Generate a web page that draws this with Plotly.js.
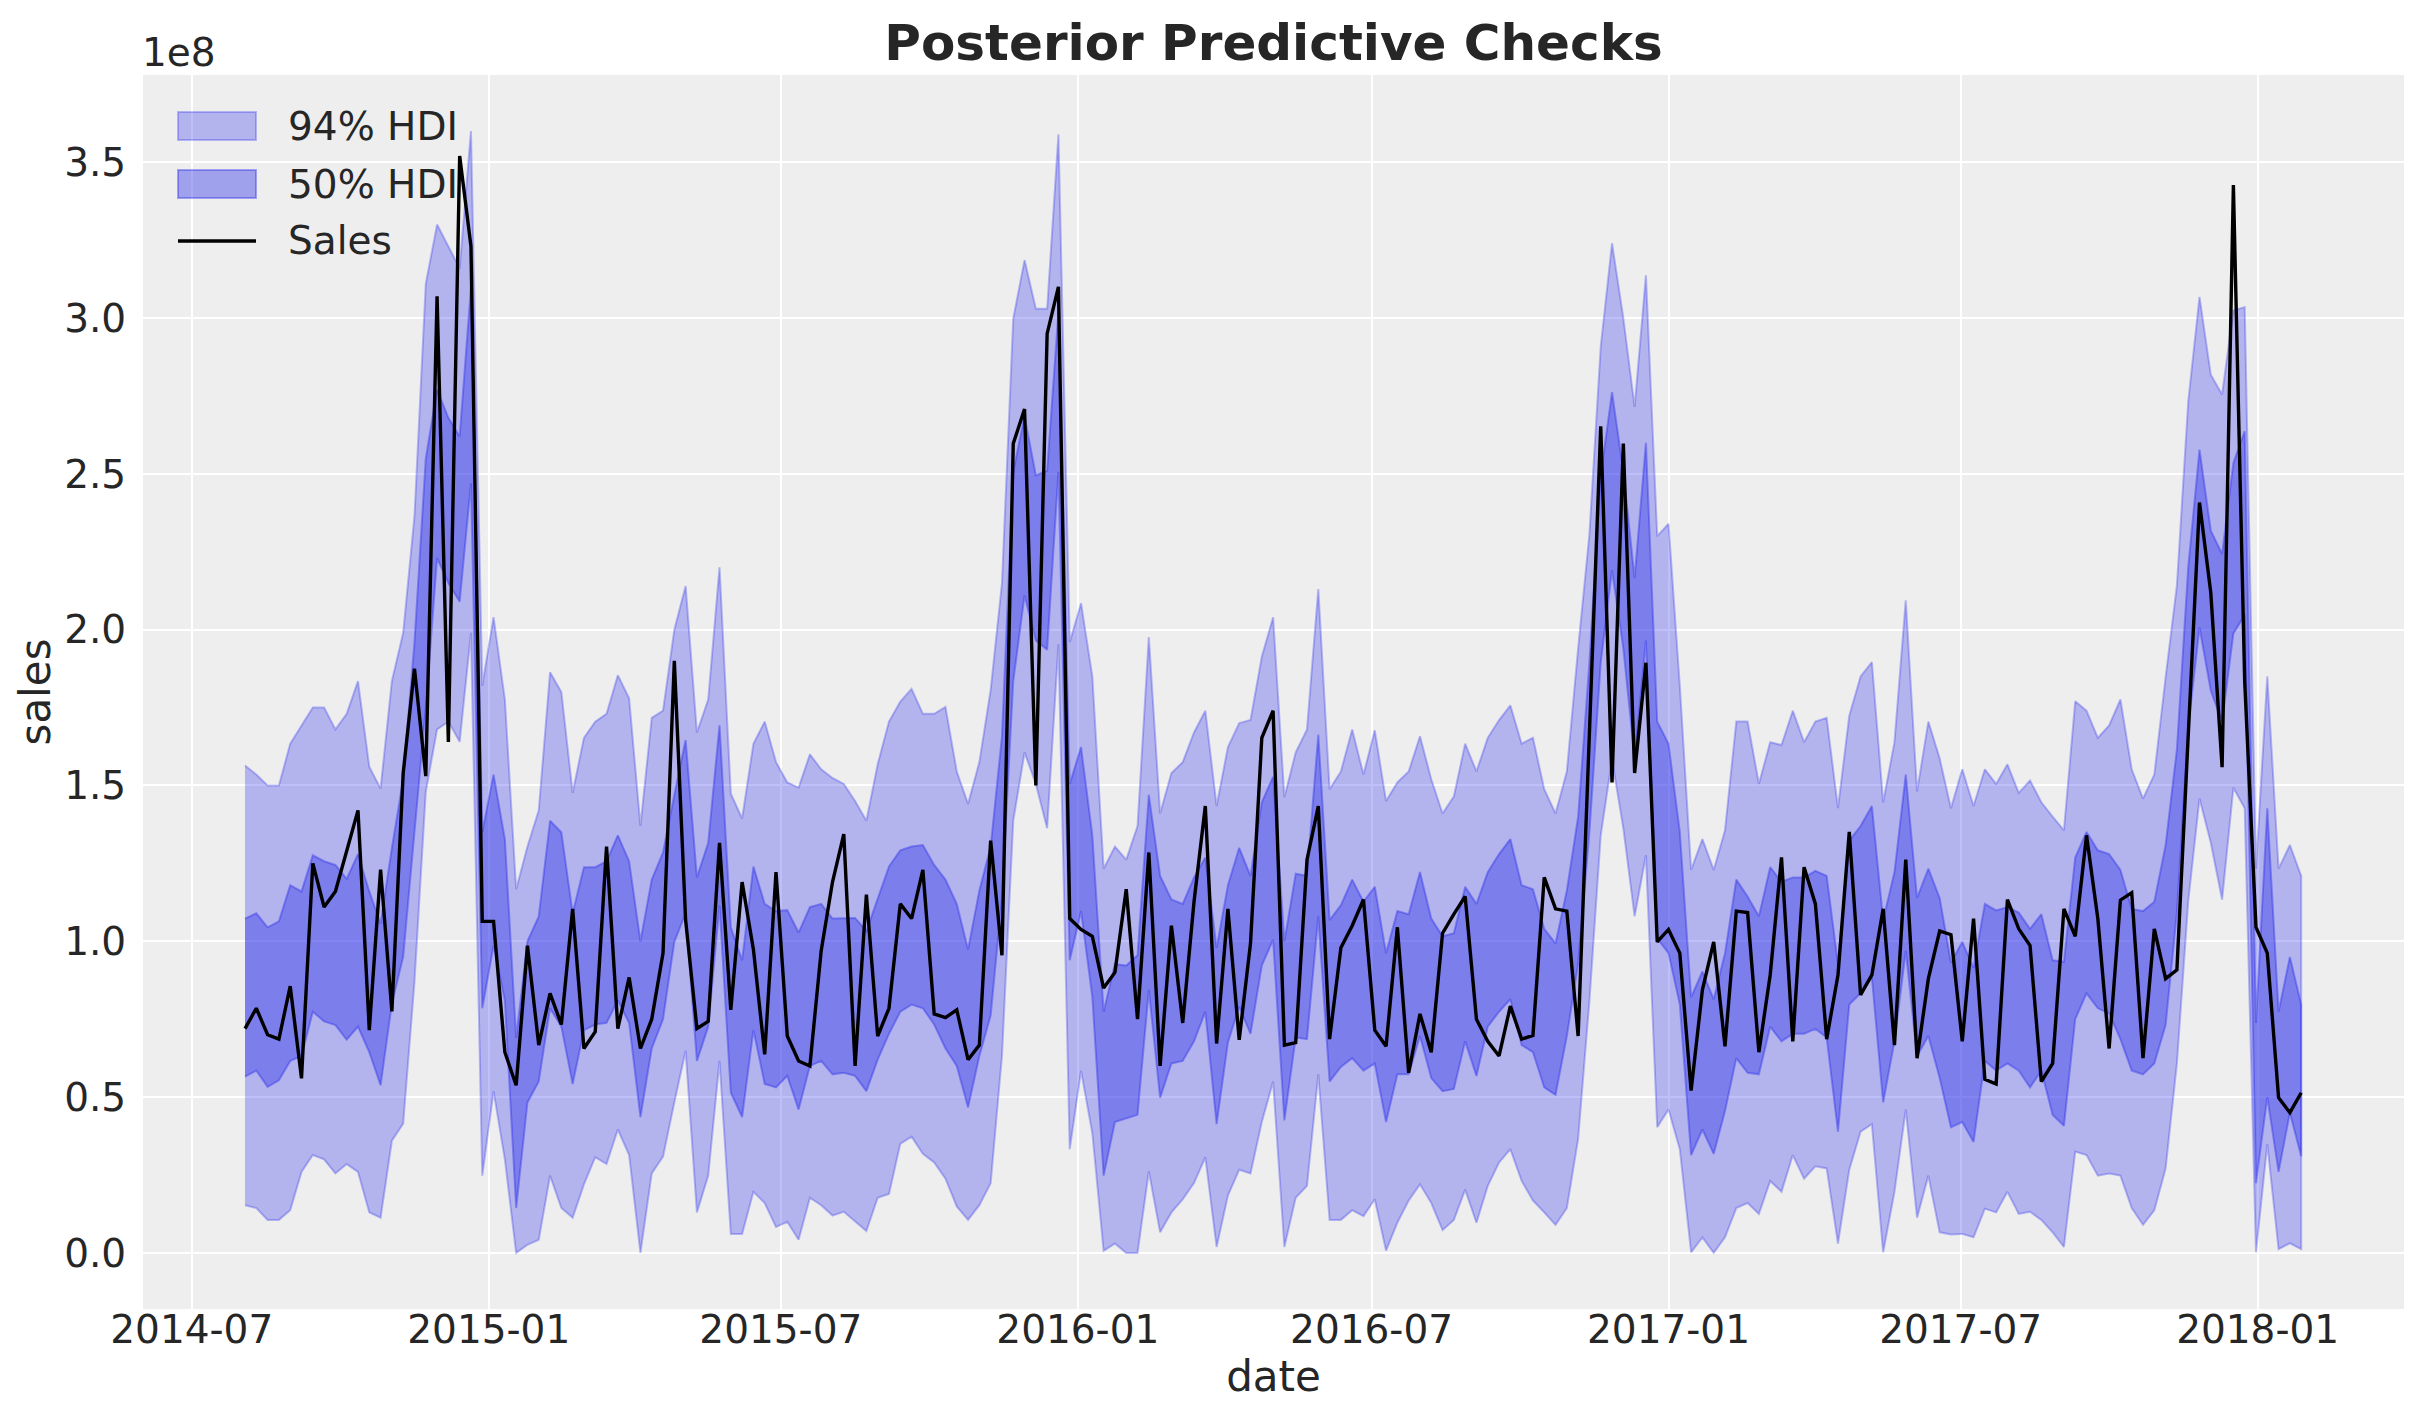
<!DOCTYPE html>
<html>
<head>
<meta charset="utf-8">
<script src="https://cdn.plot.ly/plotly-3.0.1.min.js"></script>
<style>
  html, body { margin: 0; padding: 0; background: #ffffff; }
  #chart { width: 2423px; height: 1423px; }
</style>
</head>
<body>
<div id="chart"></div>
<script>
// weekly observations, values in units of 1e8
var startDate = "2014-08-03";

var sales = [
  0.72, 0.785, 0.70, 0.686, 0.856, 0.56, 1.25, 1.11, 1.16, 1.29, 1.42, 0.715, 1.23, 0.775, 1.54, 1.875, 1.53, 3.07, 1.64, 3.52, 3.23,
  1.064, 1.064, 0.644, 0.538, 0.986, 0.667, 0.833, 0.733, 1.104, 0.656, 0.71, 1.304, 0.72, 0.884, 0.656, 0.75, 0.962, 1.90, 1.068, 0.72,
  0.743, 1.316, 0.78, 1.19, 0.974, 0.637, 1.222, 0.696, 0.616, 0.60, 0.97, 1.19, 1.344, 0.60, 1.15, 0.696, 0.785, 1.12, 1.073, 1.229,
  0.767, 0.755, 0.78, 0.62, 0.667, 1.323, 0.955, 2.597, 2.708, 1.50, 2.95, 3.10, 1.073, 1.038, 1.016, 0.85, 0.90, 1.167, 0.75, 1.285, 0.60,
  1.05, 0.738, 1.127, 1.434, 0.672, 1.104, 0.684, 0.993, 1.653, 1.74, 0.667, 0.675, 1.262, 1.434, 0.686, 0.979, 1.05, 1.134, 0.715, 0.663,
  1.045, 0.578, 0.767, 0.644, 1.026, 1.087, 1.144, 0.75, 0.679, 0.632, 0.792, 0.686, 0.698, 1.205, 1.104, 1.097, 0.696, 1.67, 2.653, 1.51, 2.597,
  1.54, 1.894, 0.998, 1.038, 0.962, 0.521, 0.844, 0.998, 0.663, 1.097, 1.092, 0.644, 0.892, 1.269, 0.679, 1.238, 1.12, 0.686, 0.892, 1.351,
  0.828, 0.892, 1.104, 0.667, 1.262, 0.625, 0.88, 1.033, 1.021, 0.679, 1.073, 0.557, 0.542, 1.134, 1.04, 0.986, 0.55, 0.608, 1.104, 1.016, 1.34,
  1.073, 0.656, 1.132, 1.156, 0.625, 1.04, 0.88, 0.908, 1.65, 2.408, 2.118, 1.559, 3.427, 1.835, 1.045, 0.962, 0.498, 0.45, 0.514
];

var hdi94High = [
  1.564, 1.535, 1.50, 1.50, 1.634, 1.69, 1.75, 1.75, 1.68, 1.73, 1.835, 1.56, 1.49, 1.835, 1.99, 2.365, 3.11, 3.30, 3.23, 3.16, 3.60,
  1.82, 2.04, 1.776, 1.167, 1.304, 1.42, 1.863, 1.80, 1.476, 1.653, 1.705, 1.73, 1.854, 1.78, 1.37, 1.717, 1.74, 2.00, 2.14, 1.67,
  1.776, 2.20, 1.474, 1.394, 1.634, 1.705, 1.575, 1.51, 1.493, 1.60, 1.552, 1.524, 1.505, 1.45, 1.387, 1.568, 1.705, 1.769, 1.81, 1.73,
  1.73, 1.752, 1.545, 1.441, 1.575, 1.807, 2.149, 2.998, 3.186, 3.03, 3.03, 3.59, 1.96, 2.085, 1.85, 1.233, 1.304, 1.262, 1.37, 1.976, 1.41,
  1.54, 1.575, 1.67, 1.74, 1.434, 1.623, 1.70, 1.71, 1.913, 2.04, 1.462, 1.606, 1.68, 2.13, 1.488, 1.545, 1.68, 1.535, 1.677, 1.45,
  1.51, 1.545, 1.658, 1.52, 1.41, 1.465, 1.634, 1.545, 1.653, 1.71, 1.757, 1.634, 1.653, 1.488, 1.41, 1.545, 1.94, 2.307, 2.908, 3.24, 3.0,
  2.715, 3.137, 2.30, 2.34, 1.82, 1.229, 1.328, 1.229, 1.356, 1.705, 1.705, 1.505, 1.639, 1.63, 1.74, 1.639, 1.705, 1.717, 1.427, 1.724,
  1.85, 1.896, 1.446, 1.639, 2.094, 1.481, 1.705, 1.587, 1.427, 1.552, 1.434, 1.552, 1.505, 1.568, 1.476, 1.516, 1.446, 1.40, 1.356, 1.77, 1.74,
  1.653, 1.693, 1.776, 1.552, 1.458, 1.535, 1.847, 2.142, 2.731, 3.068, 2.818, 2.755, 3.024, 3.035, 1.233, 1.85, 1.233, 1.309, 1.21
];

var hdi94Low = [
  0.153, 0.144, 0.106, 0.106, 0.137, 0.26, 0.314, 0.30, 0.255, 0.285, 0.26, 0.13, 0.113, 0.36, 0.415, 0.87, 1.48, 1.68, 1.705, 1.64, 1.99,
  0.248, 0.519, 0.30, 0.0, 0.026, 0.042, 0.248, 0.144, 0.113, 0.22, 0.307, 0.285, 0.396, 0.314, 0.0, 0.255, 0.309, 0.483, 0.649, 0.13,
  0.248, 0.616, 0.061, 0.061, 0.196, 0.16, 0.083, 0.10, 0.042, 0.177, 0.153, 0.12, 0.132, 0.10, 0.07, 0.177, 0.189, 0.35, 0.373, 0.318,
  0.29, 0.238, 0.149, 0.106, 0.153, 0.224, 0.632, 1.387, 1.606, 1.505, 1.363, 1.953, 0.333, 0.585, 0.384, 0.007, 0.03, 0.0, 0.0, 0.262, 0.066,
  0.13, 0.172, 0.224, 0.307, 0.019, 0.184, 0.267, 0.255, 0.42, 0.55, 0.019, 0.177, 0.215, 0.573, 0.106, 0.106, 0.137, 0.118, 0.172, 0.007,
  0.097, 0.168, 0.22, 0.16, 0.073, 0.106, 0.203, 0.097, 0.215, 0.29, 0.333, 0.231, 0.168, 0.13, 0.09, 0.144, 0.366, 0.809, 1.34, 1.583, 1.363,
  1.08, 1.276, 0.403, 0.46, 0.333, 0.002, 0.05, 0.0, 0.05, 0.144, 0.16, 0.125, 0.231, 0.196, 0.314, 0.238, 0.278, 0.271, 0.03, 0.267,
  0.389, 0.413, 0.002, 0.196, 0.46, 0.113, 0.248, 0.066, 0.059, 0.061, 0.05, 0.142, 0.13, 0.196, 0.125, 0.132, 0.106, 0.066, 0.019, 0.325, 0.314,
  0.248, 0.255, 0.248, 0.144, 0.09, 0.137, 0.271, 0.608, 1.127, 1.458, 1.316, 1.134, 1.493, 1.427, 0.002, 0.349, 0.012, 0.031, 0.012
];

var hdi50High = [
  1.073, 1.09, 1.045, 1.064, 1.18, 1.16, 1.276, 1.257, 1.245, 1.20, 1.28, 1.16, 1.057, 1.30, 1.52, 1.96, 2.55, 2.77, 2.68, 2.62, 3.10,
  1.35, 1.535, 1.328, 0.69, 1.0, 1.08, 1.387, 1.35, 1.09, 1.238, 1.238, 1.257, 1.34, 1.257, 1.0, 1.198, 1.285, 1.47, 1.646, 1.205,
  1.316, 1.693, 1.045, 0.939, 1.24, 1.12, 1.097, 1.10, 1.028, 1.11, 1.12, 1.073, 1.075, 1.075, 1.033, 1.134, 1.24, 1.292, 1.304, 1.309,
  1.245, 1.198, 1.12, 0.974, 1.163, 1.304, 1.657, 2.507, 2.686, 2.495, 2.51, 3.02, 1.505, 1.623, 1.34, 0.774, 0.927, 0.922, 0.955, 1.47, 1.21,
  1.134, 1.12, 1.205, 1.269, 0.979, 1.18, 1.30, 1.21, 1.446, 1.528, 1.0, 1.217, 1.21, 1.663, 1.068, 1.116, 1.198, 1.127, 1.175, 0.962,
  1.097, 1.087, 1.222, 1.073, 1.016, 1.026, 1.175, 1.12, 1.222, 1.28, 1.328, 1.18, 1.167, 1.04, 0.993, 1.163, 1.40, 1.896, 2.495, 2.762, 2.507,
  2.165, 2.60, 1.705, 1.634, 1.351, 0.821, 0.903, 0.814, 0.962, 1.198, 1.144, 1.08, 1.238, 1.191, 1.205, 1.205, 1.226, 1.21, 0.927, 1.323,
  1.37, 1.434, 1.068, 1.222, 1.535, 1.139, 1.233, 1.139, 0.932, 0.998, 0.915, 1.12, 1.099, 1.11, 1.092, 1.04, 1.087, 0.939, 0.934, 1.269, 1.351,
  1.292, 1.28, 1.229, 1.104, 1.097, 1.127, 1.309, 1.616, 2.20, 2.578, 2.318, 2.243, 2.535, 2.637, 0.738, 1.427, 0.774, 0.95, 0.797
];

var hdi50Low = [
  0.566, 0.585, 0.533, 0.554, 0.616, 0.632, 0.774, 0.743, 0.731, 0.684, 0.726, 0.644, 0.538, 0.80, 0.95, 1.35, 1.75, 2.23, 2.15, 2.09, 2.47,
  0.785, 0.986, 0.81, 0.144, 0.483, 0.55, 0.785, 0.726, 0.542, 0.715, 0.733, 0.738, 0.81, 0.738, 0.436, 0.656, 0.75, 0.998, 1.09, 0.616,
  0.726, 1.115, 0.514, 0.436, 0.715, 0.542, 0.531, 0.568, 0.46, 0.60, 0.616, 0.573, 0.578, 0.568, 0.519, 0.62, 0.703, 0.774, 0.797, 0.785,
  0.733, 0.656, 0.60, 0.467, 0.632, 0.762, 1.139, 1.835, 2.11, 1.965, 1.936, 2.507, 0.939, 1.097, 0.821, 0.248, 0.42, 0.432, 0.443, 0.844, 0.498,
  0.608, 0.616, 0.679, 0.774, 0.413, 0.675, 0.79, 0.703, 0.922, 1.005, 0.425, 0.691, 0.686, 1.08, 0.55, 0.597, 0.625, 0.585, 0.608, 0.42,
  0.573, 0.573, 0.696, 0.561, 0.519, 0.526, 0.679, 0.568, 0.726, 0.774, 0.814, 0.667, 0.644, 0.531, 0.507, 0.696, 0.927, 1.351, 1.894, 2.19, 1.94,
  1.587, 1.965, 1.009, 0.962, 0.797, 0.314, 0.396, 0.318, 0.455, 0.625, 0.578, 0.573, 0.726, 0.679, 0.703, 0.703, 0.719, 0.691, 0.389, 0.797,
  0.833, 0.884, 0.483, 0.679, 0.969, 0.632, 0.696, 0.561, 0.403, 0.42, 0.356, 0.616, 0.585, 0.608, 0.585, 0.531, 0.585, 0.443, 0.408, 0.75, 0.833,
  0.785, 0.769, 0.686, 0.585, 0.573, 0.608, 0.731, 1.092, 1.686, 2.007, 1.804, 1.705, 1.988, 2.047, 0.224, 0.50, 0.26, 0.45, 0.31
];

var yTicks = [0, 0.5, 1, 1.5, 2, 2.5, 3, 3.5];
var legendNames = ["94% HDI", "50% HDI", "Sales"];

function weeklyDates(start, n) {
  var d0 = new Date(start + "T00:00:00Z");
  var out = [];
  for (var i = 0; i < n; i++) {
    var d = new Date(d0.getTime() + i * 7 * 86400000);
    out.push(d.toISOString().slice(0, 10));
  }
  return out;
}

var dates = weeklyDates(startDate, sales.length);

// closed polygon, like fill_between
function band(lo, hi) {
  return {
    x: dates.concat(dates.slice().reverse()),
    y: hi.concat(lo.slice().reverse())
  };
}

var c94 = "rgba(42,46,236,0.3)";
var c50 = "rgba(42,46,236,0.4)";
var b94 = band(hdi94Low, hdi94High);
var b50 = band(hdi50Low, hdi50High);

var data = [
  {
    x: b94.x, y: b94.y, type: "scatter", mode: "lines", fill: "toself",
    fillcolor: c94, line: {color: c94, width: 2},
    name: legendNames[0], hoverinfo: "skip"
  },
  {
    x: b50.x, y: b50.y, type: "scatter", mode: "lines", fill: "toself",
    fillcolor: c50, line: {color: c50, width: 2},
    name: legendNames[1], hoverinfo: "skip"
  },
  {
    x: dates, y: sales, type: "scatter", mode: "lines",
    line: {color: "#000000", width: 3.4},
    name: legendNames[2]
  }
];

// plot box in px, used for the hand-made legend
var W = 2423, H = 1423;
var M = {l: 143, r: 19, t: 75, b: 114};
var pw = W - M.l - M.r, ph = H - M.t - M.b;
function px(x) { return (x - M.l) / pw; }
function py(y) { return 1 - (y - M.t) / ph; }

var font = "DejaVu Sans, sans-serif";
var txt = "#262626";

var shapes = [
  {type: "rect", xref: "paper", yref: "paper", x0: px(178), x1: px(256), y0: py(140), y1: py(112),
   fillcolor: c94, line: {color: c94, width: 2}},
  {type: "rect", xref: "paper", yref: "paper", x0: px(178), x1: px(256), y0: py(198), y1: py(170),
   fillcolor: c50, line: {color: c50, width: 2}},
  {type: "line", xref: "paper", yref: "paper", x0: px(178), x1: px(256), y0: py(241), y1: py(241),
   line: {color: "#000000", width: 3.4}}
];

var legendRows = [126, 184, 241];
var annotations = legendRows.map(function (yy, i) {
  return {
    text: legendNames[i], xref: "paper", yref: "paper", x: px(286), y: py(yy),
    xanchor: "left", yanchor: "middle", showarrow: false,
    font: {family: font, size: 39, color: txt}
  };
});
annotations.push({
  text: "1e8", xref: "paper", yref: "paper", x: 0, y: 1,
  xanchor: "left", yanchor: "bottom", xshift: -3, yshift: -2, showarrow: false,
  font: {family: font, size: 39, color: txt}
});

var layout = {
  width: W,
  height: H,
  paper_bgcolor: "#ffffff",
  plot_bgcolor: "#eeeeee",
  margin: M,
  font: {family: font, size: 39, color: txt},
  title: {
    text: "<b>Posterior Predictive Checks</b>",
    font: {family: font, size: 50, color: txt},
    x: 0.5, xref: "paper", xanchor: "center",
    y: 1 - 42 / H, yref: "container", yanchor: "middle"
  },
  showlegend: false,
  xaxis: {
    type: "date",
    range: ["2014-05-31 19:00", "2018-04-01 17:00"],
    tick0: "2014-07-01", dtick: "M6", tickformat: "%Y-%m",
    showgrid: true, gridcolor: "#ffffff", gridwidth: 2,
    zeroline: false, showline: false,
    ticks: "", ticklabelstandoff: -6,
    tickfont: {family: font, size: 39, color: txt},
    title: {text: "date", font: {family: font, size: 42, color: txt}, standoff: 10}
  },
  yaxis: {
    range: [-0.18, 3.78],
    tickvals: yTicks, tickformat: ".1f",
    showgrid: true, gridcolor: "#ffffff", gridwidth: 2,
    zeroline: false, showline: false,
    ticks: "outside", ticklen: 8, tickcolor: "rgba(0,0,0,0)",
    tickfont: {family: font, size: 39, color: txt},
    title: {text: "sales", font: {family: font, size: 42, color: txt}, standoff: 0}
  },
  shapes: shapes,
  annotations: annotations
};

Plotly.newPlot("chart", data, layout, {displayModeBar: false, staticPlot: true});
</script>
</body>
</html>
